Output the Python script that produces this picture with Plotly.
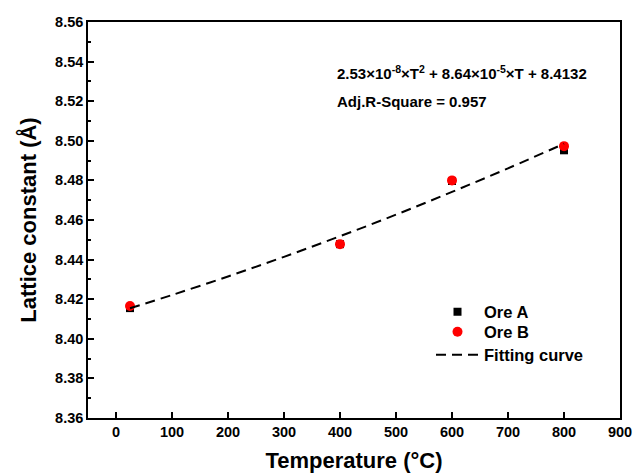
import plotly.graph_objects as go

# Data
temp = [25, 400, 600, 800]
ore_a = [8.4155, 8.4478, 8.4797, 8.4952]
ore_b = [8.4166, 8.4478, 8.4800, 8.4973]

fit_t = [25, 100, 200, 300, 400, 500, 600, 700, 800]
fit_v = [8.4154, 8.4221, 8.4315, 8.4414, 8.4518, 8.4627, 8.4742, 8.4861, 8.4985]

x_ticks = [0, 100, 200, 300, 400, 500, 600, 700, 800, 900]
y_ticks = [8.36, 8.38, 8.40, 8.42, 8.44, 8.46, 8.48, 8.50, 8.52, 8.54, 8.56]

FONT = "Liberation Sans, Arial, sans-serif"

fig = go.Figure()
fig.add_trace(go.Scatter(x=temp, y=ore_a, mode="markers", name="Ore A", legend="legend",
                         marker=dict(symbol="square", size=8, color="black")))
fig.add_trace(go.Scatter(x=temp, y=ore_b, mode="markers", name="Ore B", legend="legend2",
                         marker=dict(symbol="circle", size=10, color="red")))
fig.add_trace(go.Scatter(x=fit_t, y=fit_v, mode="lines", name="Fitting curve", legend="legend3",
                         line=dict(color="black", width=2, dash="10px,6px", shape="spline")))


def leg(ypix):
    return dict(x=(431 - 88) / 532, y=(418 - ypix) / 396, xanchor="left", yanchor="middle",
                bgcolor="rgba(0,0,0,0)", borderwidth=0,
                font=dict(family=FONT, size=16.5, color="black", weight="bold"),
                itemwidth=43)


fig.update_layout(
    width=633, height=473,
    margin=dict(l=88, r=13, t=22, b=55),
    paper_bgcolor="white", plot_bgcolor="white",
    font=dict(family=FONT, color="black"),
    showlegend=True,
    legend=leg(312), legend2=leg(332), legend3=leg(355),
    xaxis=dict(range=[-50, 900], tickvals=x_ticks, ticks="inside", ticklen=6,
               tickwidth=1.5, tickcolor="black", showline=True, linecolor="black",
               linewidth=1.5, mirror=True, showgrid=False, zeroline=False,
               automargin=False,
               tickfont=dict(family=FONT, size=14.5, weight="bold"),
               title=dict(text="Temperature (°C)", standoff=18,
                          font=dict(family=FONT, size=22, weight="bold"))),
    yaxis=dict(range=[8.36, 8.56], tickvals=y_ticks, tickformat=".2f",
               ticks="inside", ticklen=6, tickwidth=1.5, tickcolor="black",
               showline=True, linecolor="black", linewidth=1.5, mirror=True,
               showgrid=False, zeroline=False, automargin=False,
               minor=dict(dtick=0.01, ticks="inside", ticklen=3, tickcolor="black",
                          showgrid=False),
               tickfont=dict(family=FONT, size=14.5, weight="bold"),
               title=dict(text="Lattice constant (Å)", standoff=12,
                          font=dict(family=FONT, size=22, weight="bold"))),
)

fig.add_annotation(xref="paper", yref="paper", x=(335 - 88) / 532, y=(418 - 72) / 396,
                   xanchor="left", yanchor="middle", showarrow=False,
                   text="2.53×10<sup>-8</sup>×T<sup>2</sup> + 8.64×10<sup>-5</sup>×T + 8.4132",
                   font=dict(family=FONT, size=15, weight="bold", color="black"))
fig.add_annotation(xref="paper", yref="paper", x=(335 - 88) / 532, y=(418 - 102) / 396,
                   xanchor="left", yanchor="middle", showarrow=False,
                   text="Adj.R-Square = 0.957",
                   font=dict(family=FONT, size=15, weight="bold", color="black"))

fig.write_html("out.html")
